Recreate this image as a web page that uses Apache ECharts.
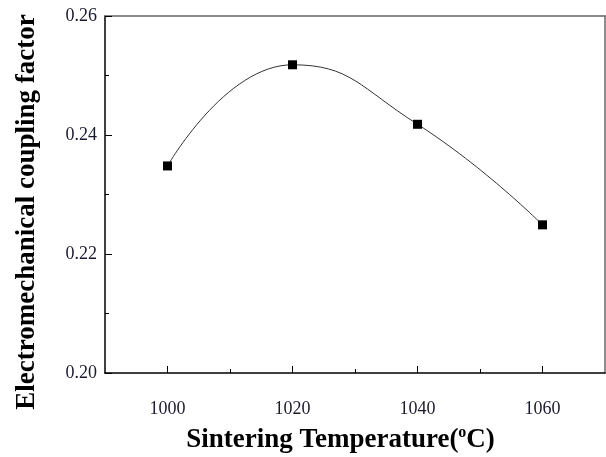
<!DOCTYPE html>
<html>
<head>
<meta charset="utf-8">
<script src="https://cdn.jsdelivr.net/npm/echarts@6/dist/echarts.min.js"></script>
<style>
  html, body { margin: 0; padding: 0; background: #fff; }
  #chart { width: 606px; height: 457px; }
</style>
</head>
<body>
<div id="chart"></div>
<script>
// 烧结温度 vs 机电耦合系数
var temps = [1000, 1020, 1040, 1060];
var kp = [0.2348, 0.2518, 0.2418, 0.2249];
var xMajorTicks = [1000, 1020, 1040, 1060];
var xMinorTicks = [1010, 1030, 1050];

var serif = '"Liberation Serif", "DejaVu Serif", serif';

var myChart = echarts.init(document.getElementById('chart'));
var option = {
	animation: false,
	backgroundColor: '#fff',
	grid: { left: 105, right: 1, top: 16, bottom: 84, outerBoundsMode: 'none', containLabel: false },
	xAxis: [
		{
			type: 'value',
			min: 990,
			max: 1070,
			position: 'bottom',
			name: '{t|Sintering Temperature(}{sup|o}{t|C)}',
			nameLocation: 'middle',
			nameGap: 52,
			nameTextStyle: {
				padding: [0, 29, 0, 0],
				rich: {
					t: { fontFamily: serif, fontWeight: 'bold', fontSize: 27, color: '#000', lineHeight: 30 },
					sup: { fontFamily: serif, fontWeight: 'bold', fontSize: 16, color: '#000', verticalAlign: 'top', lineHeight: 30, padding: [0, 0, 14, 0] }
				}
			},
			axisLine: { show: true, lineStyle: { color: '#000', width: 1.5 } },
			axisTick: { show: true, inside: true, length: 7, customValues: xMajorTicks, lineStyle: { color: '#000', width: 1 } },
			axisLabel: {
				show: true,
				customValues: xMajorTicks,
				margin: 27,
				fontFamily: serif,
				fontSize: 18,
				color: '#1a1a2e',
				formatter: function (v) { return String(v); }
			},
			splitLine: { show: false }
		},
		{
			// 次刻度
			type: 'value',
			min: 990,
			max: 1070,
			position: 'bottom',
			axisLine: { show: false },
			axisTick: { show: true, inside: true, length: 4, customValues: xMinorTicks, lineStyle: { color: '#000', width: 1 } },
			axisLabel: { show: false },
			splitLine: { show: false }
		},
		{
			type: 'value',
			min: 990,
			max: 1070,
			position: 'top',
			axisLine: { show: true, lineStyle: { color: '#666', width: 1.5 } },
			axisTick: { show: false },
			axisLabel: { show: false },
			splitLine: { show: false }
		}
	],
	yAxis: [
		{
			type: 'value',
			min: 0.20,
			max: 0.26,
			interval: 0.02,
			name: 'Electromechanical coupling factor',
			nameLocation: 'middle',
			nameGap: 64,
			nameTextStyle: { fontFamily: serif, fontWeight: 'bold', fontSize: 27, color: '#000', padding: [0, 35, 0, 0] },
			axisLine: { show: true, lineStyle: { color: '#000', width: 1.5 } },
			axisTick: { show: true, inside: true, length: 7, lineStyle: { color: '#000', width: 1 } },
			minorTick: { show: true, splitNumber: 2, length: 4, lineStyle: { color: '#000', width: 1 } },
			axisLabel: {
				margin: 8,
				fontFamily: serif,
				fontSize: 18,
				color: '#1a1a2e',
				formatter: function (v) { return v.toFixed(2); }
			},
			splitLine: { show: false }
		},
		{
			type: 'value',
			min: 0.20,
			max: 0.26,
			interval: 0.02,
			position: 'right',
			axisLine: { show: true, lineStyle: { color: '#666', width: 1.5 } },
			axisTick: { show: false },
			axisLabel: { show: false },
			splitLine: { show: false }
		}
	],
	series: [
		{
			type: 'line',
			xAxisIndex: 0,
			yAxisIndex: 0,
			data: temps.map(function (t, i) { return [t, kp[i]]; }),
			smooth: 0.5,
			symbol: 'rect',
			symbolSize: 9,
			itemStyle: { color: '#000' },
			lineStyle: { color: '#333', width: 1 }
		}
	]
};
myChart.setOption(option);
window.addEventListener('resize', function () {
	myChart.resize();
});
</script>
</body>
</html>
